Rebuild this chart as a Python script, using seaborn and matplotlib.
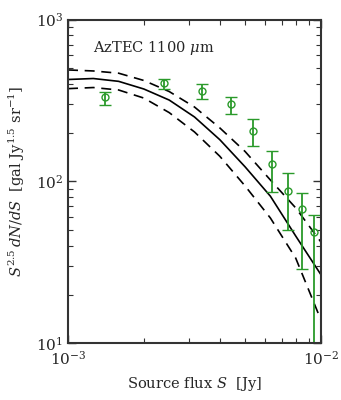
import numpy as np
import matplotlib
matplotlib.use("Agg")
import matplotlib.pyplot as plt
import matplotlib.ticker as mticker
import seaborn as sns

# model curves, sampled every 0.1 dex from 1 to 10 mJy
model_flux = 1e-3 * 10 ** np.arange(0, 1.01, 0.1)
model_mid = [426, 432, 415, 372, 318, 250, 181, 123, 81, 46, 26.5]
model_hi = [488, 481, 466, 420, 359, 288, 214, 153, 102, 68.6, 42.2]
model_lo = [374, 380, 367, 327, 266, 202, 143, 93.7, 59.4, 33.6, 13.9]

# AzTEC 1100 um counts
obs_flux = [1.4e-3, 2.4e-3, 3.4e-3, 4.4e-3, 5.4e-3, 6.4e-3, 7.4e-3, 8.4e-3, 9.4e-3]
obs_val = [330, 403, 363, 302, 206, 128.6, 87.7, 67.3, 48.9]
obs_up = [358, 431, 401, 334, 244, 155, 112.7, 85.1, 62]
obs_low = [296, 374, 323, 260, 165, 85.7, 49.9, 28.6, 1]

sns.set_style("ticks")
plt.rcParams['font.family'] = ['DejaVu Serif']
plt.rcParams['mathtext.fontset'] = 'dejavuserif'
plt.rcParams['axes.unicode_minus'] = False
plt.rcParams['axes.edgecolor'] = '#333333'
plt.rcParams['axes.linewidth'] = 1.5

fig = plt.figure(figsize=(3.41, 4.0), dpi=100)
ax = fig.add_axes([68 / 341, 1 - 343.3 / 400, 253 / 341, 323.8 / 400])

sns.lineplot(x=model_flux, y=model_mid, ax=ax, color='black', lw=1.2)
sns.lineplot(x=model_flux, y=model_hi, ax=ax, color='black', lw=1.2, linestyle=(0, (6, 4)))
sns.lineplot(x=model_flux, y=model_lo, ax=ax, color='black', lw=1.2, linestyle=(0, (6, 4)))

yerr = [np.array(obs_val) - np.array(obs_low), np.array(obs_up) - np.array(obs_val)]
ax.errorbar(obs_flux, obs_val, yerr=yerr, fmt='o', mfc='none', mec='#2a9a2a',
            ecolor='#2a9a2a', ms=5, mew=1.0, elinewidth=1.3, capsize=4, capthick=1.3)

ax.set_xscale('log')
ax.set_yscale('log')
ax.set_xlim(1e-3, 1e-2)
ax.set_ylim(10, 1000)
ax.xaxis.set_minor_formatter(mticker.NullFormatter())
ax.yaxis.set_minor_formatter(mticker.NullFormatter())

ax.tick_params(which='both', direction='in', top=True, right=True, labelsize=11,
               color='#333333')
ax.tick_params(which='major', length=6, width=1)
ax.tick_params(which='minor', length=3.5, width=0.8)
ax.tick_params(axis='x', which='major', pad=5)

ax.text(0.1, 0.9, r'AzTEC 1100 $\mu$m', transform=ax.transAxes, fontsize=10.5)
ax.set_xlabel(r'Source flux $S$  [Jy]', fontsize=10.5, labelpad=5)
ax.set_ylabel(r'$S^{2.5}\,dN/dS$  [gal Jy$^{1.5}$ sr$^{-1}$]', fontsize=10.5, labelpad=6)

fig.savefig('out.png', dpi=100)
